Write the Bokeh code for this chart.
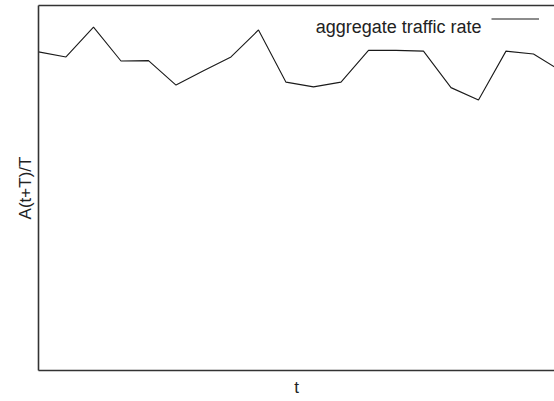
from bokeh.plotting import figure
from bokeh.models import Range1d, LinearAxis, FixedTicker, Legend, LegendItem, Label
from bokeh.embed import file_html
from bokeh.resources import INLINE

# data (arbitrary units)
t = list(range(20))
rate = [0.873, 0.859, 0.941, 0.848, 0.849, 0.782, 0.821, 0.859, 0.933, 0.790,
        0.777, 0.790, 0.877, 0.877, 0.875, 0.775, 0.741, 0.875, 0.867, 0.821]
x_label = "t"
y_label = "A(t+T)/T"
series_name = "aggregate traffic rate"

FONT = "Liberation Sans"
FRAME = "#333333"

p = figure(width=554, height=399, output_backend="svg", toolbar_location=None,
           x_range=Range1d(0, 18.764), y_range=Range1d(0, 1.0),
           x_axis_location=None, y_axis_location=None,
           min_border_left=38, min_border_right=0, min_border_top=5, min_border_bottom=0)
p.outline_line_color = None
p.grid.visible = False
p.background_fill_color = "white"
p.border_fill_color = "white"

def mk_axis(label=None, standoff=6):
    ax = LinearAxis(ticker=FixedTicker(ticks=[]))
    ax.axis_line_color = FRAME
    ax.axis_line_width = 1.6
    ax.major_tick_line_color = None
    ax.minor_tick_line_color = None
    ax.major_label_text_font_size = "0px"
    if label:
        ax.axis_label = label
        ax.axis_label_text_font = FONT
        ax.axis_label_text_font_size = "17px"
        ax.axis_label_text_font_style = "normal"
        ax.axis_label_text_color = "#222222"
        ax.axis_label_standoff = standoff
    return ax

p.add_layout(mk_axis(x_label, 7), "below")
p.add_layout(mk_axis(y_label, 4), "left")
top = mk_axis()
p.add_layout(top, "above")

r = p.line(t, rate, line_color="#1a1a1a", line_width=1.1)

legend = Legend(items=[LegendItem(label=" ", renderers=[r])], location="top_right",
                glyph_width=48, glyph_height=19, label_text_font_size="1px",
                label_standoff=11, label_width=0, padding=5, margin=4,
                border_line_color=None, background_fill_alpha=0)
p.add_layout(legend)

lab = Label(x=(481 - 38) / 27.5, y=(370.5 - 27) / 365, text=series_name,
            text_align="right", text_baseline="alphabetic",
            text_font=FONT, text_font_size="18px", text_color="#222222")
p.add_layout(lab)

open("out.html", "w").write(file_html(p, INLINE))
